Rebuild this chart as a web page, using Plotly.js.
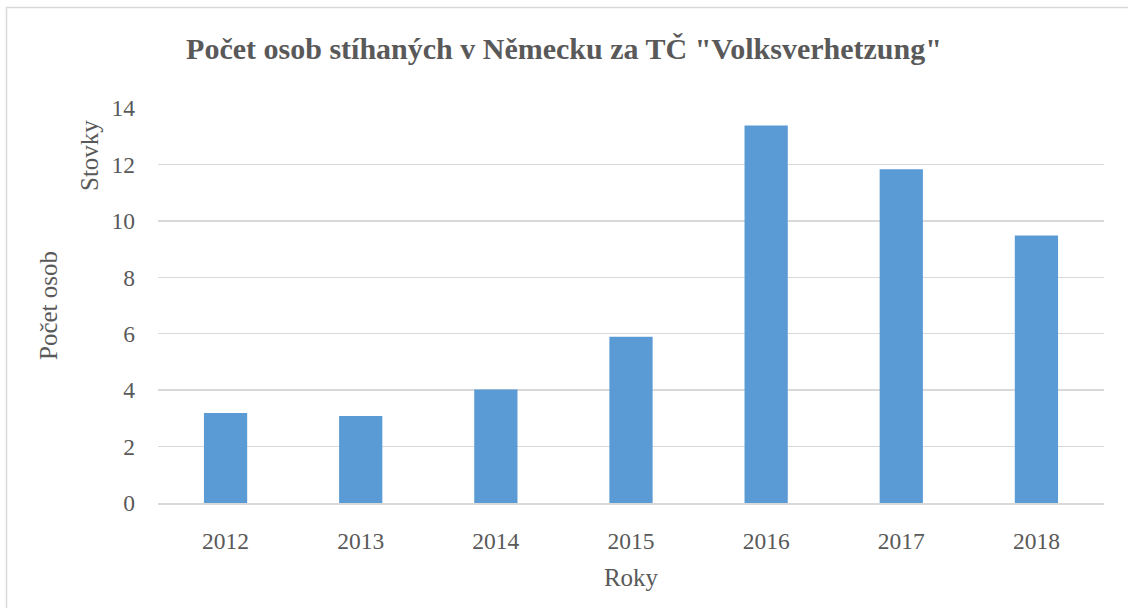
<!DOCTYPE html>
<html>
<head>
<meta charset="utf-8">
<script src="https://cdn.plot.ly/plotly-3.0.1.min.js"></script>
<style>
html,body{margin:0;padding:0;background:#fff;}
#chart{width:1128px;height:608px;}
</style>
</head>
<body>
<div id="chart"></div>
<script>
const years = ["2012", "2013", "2014", "2015", "2016", "2017", "2018"];
const values = [3.19, 3.08, 4.02, 5.89, 13.38, 11.83, 9.48];
const yTicks = [0, 2, 4, 6, 8, 10, 12, 14];

const FONT = "Liberation Serif, DejaVu Serif, serif";
const TXT = "#595959";

const trace = {
  type: "bar",
  x: years,
  y: values,
  marker: {color: "#5b9bd5"},
  hoverinfo: "x+y"
};

const layout = {
  width: 1128,
  height: 608,
  margin: {l: 158, r: 24, t: 108, b: 105},
  paper_bgcolor: "#ffffff",
  plot_bgcolor: "#ffffff",
  bargap: 0.68,
  showlegend: false,
  font: {family: FONT, color: TXT},
  title: {
    text: "<b>Počet osob stíhaných v Německu za TČ \"Volksverhetzung\"</b>",
    font: {family: FONT, size: 30, color: TXT},
    x: 0.5, xanchor: "center", xref: "container",
    y: 1 - 48 / 608, yanchor: "middle", yref: "container"
  },
  xaxis: {
    type: "category",
    showgrid: false,
    showline: true,
    linecolor: "#d9d9d9",
    linewidth: 1.5,
    ticks: "",
    tickfont: {family: FONT, size: 23.5, color: TXT},
    ticklabelstandoff: 16,
    title: {text: "Roky", font: {family: FONT, size: 25, color: TXT}, standoff: 16},
    fixedrange: true
  },
  yaxis: {
    range: [0, 14],
    tickvals: yTicks,
    ticktext: yTicks.map(String),
    showgrid: true,
    gridcolor: "#d9d9d9",
    gridwidth: 1.5,
    zeroline: false,
    showline: false,
    ticks: "",
    tickfont: {family: FONT, size: 23.5, color: TXT},
    ticklabelstandoff: 22,
    title: {text: "Počet osob", font: {family: FONT, size: 25, color: TXT}, standoff: 46},
    fixedrange: true
  },
  annotations: [{
    text: "Stovky",
    xref: "paper", yref: "paper",
    x: (89 - 158) / 946, y: (503 - 156) / 395,
    xanchor: "center", yanchor: "middle",
    textangle: -90,
    showarrow: false,
    font: {family: FONT, size: 25, color: TXT}
  }],
  shapes: [{
    type: "rect",
    xref: "paper", yref: "paper",
    x0: (6.5 - 158) / 946, x1: (1140 - 158) / 946,
    y0: (503 - 620) / 395, y1: (503 - 7.5) / 395,
    line: {color: "#d9d9d9", width: 1.5},
    fillcolor: "rgba(0,0,0,0)",
    layer: "below"
  }]
};

Plotly.newPlot("chart", [trace], layout, {staticPlot: true, displayModeBar: false});
</script>
</body>
</html>
